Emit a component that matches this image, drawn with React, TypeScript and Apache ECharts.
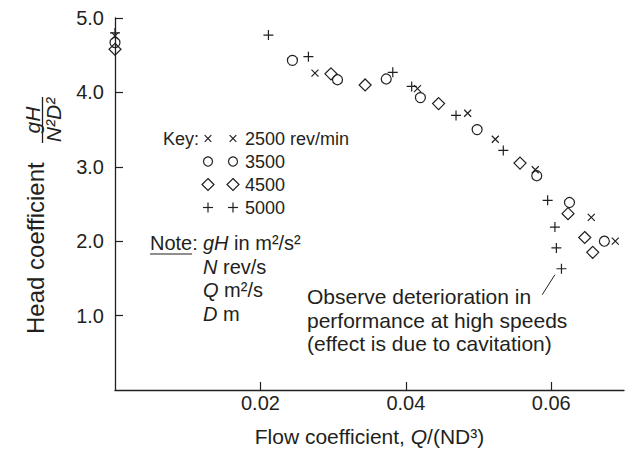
import React, { useEffect, useRef } from "react";
import * as echarts from "echarts";

// ---- data (flow coefficient, head coefficient) ----
const rpm2500: [number, number][] = [
  [0, 4.76], [0.0275, 4.26], [0.0416, 4.05], [0.0485, 3.72], [0.0523, 3.37],
  [0.0578, 2.96], [0.0655, 2.32], [0.0688, 2.0],
];
const rpm3500: [number, number][] = [
  [0, 4.67], [0.0244, 4.43], [0.0306, 4.17], [0.0373, 4.18], [0.042, 3.93],
  [0.0498, 3.5], [0.058, 2.88], [0.0625, 2.52], [0.0673, 2.0],
];
const rpm4500: [number, number][] = [
  [0, 4.58], [0.0297, 4.25], [0.0344, 4.1], [0.0445, 3.85], [0.0557, 3.05],
  [0.0623, 2.37], [0.0646, 2.05], [0.0657, 1.85],
];
const rpm5000: [number, number][] = [
  [0, 4.8], [0.0211, 4.77], [0.0266, 4.48], [0.0382, 4.27], [0.0408, 4.08],
  [0.0469, 3.69], [0.0534, 3.22], [0.0595, 2.55], [0.0605, 2.19], [0.0607, 1.91],
  [0.0614, 1.63],
];
const pointer: [number, number][] = [[0.05875, 1.28], [0.0605, 1.55]];

const xTicks = [0.02, 0.04, 0.06];
const yTicks = [1, 2, 3, 4, 5];
const keyLabels = ["2500 rev/min", "3500", "4500", "5000"];
const noteLines = [
  "{i|gH}{n| in m²/s²}",
  "{i|N}{n| rev/s}",
  "{i|Q}{n| m²/s}",
  "{i|D}{n| m}",
];
const annotation = "Observe deterioration in\nperformance at high speeds\n(effect is due to cavitation)";

const FONT = "'Liberation Sans', Arial, Helvetica, sans-serif";
const INK = "#231f20";

const SYM_X = "path://M0,0L10,10M10,0L0,10";
const SYM_PLUS = "path://M5,0L5,10M0,5L10,5";
const SYM_DIAMOND = "path://M5,0L10,5L5,10L0,5Z";

function keySymbol(kind: number, cx: number, cy: number): any {
  const st = { stroke: INK, lineWidth: 1.2, fill: "none" };
  if (kind === 0) {
    const h = 3.3;
    return {
      type: "group", children: [
        { type: "line", shape: { x1: cx - h, y1: cy - h, x2: cx + h, y2: cy + h }, style: st },
        { type: "line", shape: { x1: cx + h, y1: cy - h, x2: cx - h, y2: cy + h }, style: st },
      ],
    };
  }
  if (kind === 1) return { type: "circle", shape: { cx, cy, r: 4.5 }, style: st };
  if (kind === 2) {
    const h = 6;
    return { type: "polygon", shape: { points: [[cx, cy - h], [cx + h, cy], [cx, cy + h], [cx - h, cy]] }, style: st };
  }
  const h = 5;
  return {
    type: "group", children: [
      { type: "line", shape: { x1: cx - h, y1: cy, x2: cx + h, y2: cy }, style: st },
      { type: "line", shape: { x1: cx, y1: cy - h, x2: cx, y2: cy + h }, style: st },
    ],
  };
}

function txt(text: string, x: number, y: number, size: number, extra: any = {}): any {
  return {
    type: "text", x, y,
    style: {
      text, fill: INK, fontFamily: FONT, fontSize: size,
      textAlign: "left", align: "left", textVerticalAlign: "middle", verticalAlign: "middle",
      ...extra,
    },
  };
}

export default function App() {
  const ref = useRef<HTMLDivElement>(null);
  useEffect(() => {
    if (!ref.current) return;
    const chart = echarts.init(ref.current, null, { renderer: "svg" });

    const keyRowsY = [138.5, 161.5, 184.5, 207.5];
    const keyG: any[] = [txt("Key:", 163, keyRowsY[0], 18)];
    keyLabels.forEach((lab, i) => {
      keyG.push(keySymbol(i, 208, keyRowsY[i]));
      keyG.push(keySymbol(i, 233, keyRowsY[i]));
      keyG.push(txt(lab, 245, keyRowsY[i], 18));
    });

    const noteRowsY = [243, 266.5, 290, 313.5];
    const rich = {
      i: { fontStyle: "italic", fontFamily: FONT, fontSize: 20, fill: INK, color: INK },
      n: { fontFamily: FONT, fontSize: 20, fill: INK, color: INK },
    };
    const noteG: any[] = [
      txt("Note:", 150, noteRowsY[0], 20),
      { type: "line", shape: { x1: 150, y1: 254, x2: 192, y2: 254 }, style: { stroke: INK, lineWidth: 1.2 } },
    ];
    noteLines.forEach((t, i) => noteG.push(txt(t, 203, noteRowsY[i], 20, { rich })));

    const yTitle = {
      type: "group", x: 0, y: 334, rotation: Math.PI / 2,
      children: [
        txt("Head coefficient", 0, 35, 24),
        txt("gH", 214, 32, 21, { textAlign: "center", align: "center", fontStyle: "italic" }),
        { type: "line", shape: { x1: 191, y1: 42.5, x2: 237, y2: 42.5 }, style: { stroke: INK, lineWidth: 1.3 } },
        txt("N²D²", 214, 53, 21, { textAlign: "center", align: "center", fontStyle: "italic" }),
      ],
    };

    const ann = {
      type: "text", x: 307, y: 285,
      style: {
        text: annotation, fill: INK, fontFamily: FONT, fontSize: 21, lineHeight: 23.5,
        textAlign: "left", align: "left", textVerticalAlign: "top", verticalAlign: "top",
      },
    };

    const marker = (name: string, data: [number, number][], symbol: string, size: number) => ({
      type: "scatter", name, data, symbol, symbolSize: size, clip: false, silent: true,
      itemStyle: { color: "transparent", borderColor: INK, borderWidth: 1.2, opacity: 1 },
    });

    const s5000: any = marker("5000", rpm5000, SYM_PLUS, 10);
    s5000.markLine = {
      silent: true, symbol: ["none", "none"], label: { show: false },
      lineStyle: { color: INK, width: 1, type: "solid" },
      data: [[{ coord: pointer[0] }, { coord: pointer[1] }]],
    };

    chart.setOption({
      animation: false,
      backgroundColor: "#fff",
      grid: { left: 115, right: 9, top: 18, bottom: 59, containLabel: false },
      xAxis: {
        type: "value", min: 0, max: 0.07,
        name: "{n|Flow coefficient, }{i|Q}{n|/(ND³)}",
        nameLocation: "middle", nameGap: 36,
        nameTextStyle: {
          rich: {
            n: { fontFamily: FONT, fontSize: 21, color: INK },
            i: { fontFamily: FONT, fontSize: 21, color: INK, fontStyle: "italic" },
          },
        },
        axisLine: { lineStyle: { color: INK, width: 1.3 } },
        axisTick: { inside: true, length: 8, customValues: xTicks, lineStyle: { color: INK, width: 1.2 } },
        axisLabel: {
          customValues: xTicks, margin: 3, fontFamily: FONT, fontSize: 20, color: INK,
          formatter: (v: number) => v.toFixed(2),
        },
        splitLine: { show: false },
      },
      yAxis: {
        type: "value", min: 0, max: 5,
        axisLine: { lineStyle: { color: INK, width: 1.3 } },
        axisTick: { inside: true, length: 8, customValues: yTicks, lineStyle: { color: INK, width: 1.2 } },
        axisLabel: {
          customValues: yTicks, margin: 11, fontFamily: FONT, fontSize: 20, color: INK,
          formatter: (v: number) => v.toFixed(1),
        },
        splitLine: { show: false },
      },
      graphic: [...keyG, ...noteG, yTitle, ann],
      series: [
        marker("2500", rpm2500, SYM_X, 7),
        marker("3500", rpm3500, "circle", 10),
        marker("4500", rpm4500, SYM_DIAMOND, 12),
        s5000,
      ],
    });
    return () => chart.dispose();
  }, []);
  return <div ref={ref} style={{ width: 633, height: 452, position: "absolute", left: 0, top: 0 }} />;
}
